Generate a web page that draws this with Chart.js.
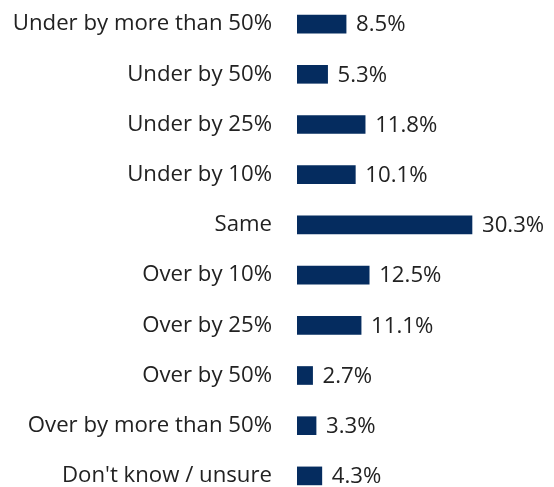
<!DOCTYPE html>
<html>
<head>
<meta charset="utf-8">
<script src="https://cdn.jsdelivr.net/npm/chart.js@4"></script>
<style>
  html, body { margin: 0; padding: 0; background: #fff; overflow: hidden; }
  #chart { position: absolute; left: 0; top: -1px; }
</style>
</head>
<body>
<canvas id="chart" width="554" height="502"></canvas>
<script>
const categories = [
  "Under by more than 50%",
  "Under by 50%",
  "Under by 25%",
  "Under by 10%",
  "Same",
  "Over by 10%",
  "Over by 25%",
  "Over by 50%",
  "Over by more than 50%",
  "Don't know / unsure"
];
const shares = [8.5, 5.3, 11.8, 10.1, 30.3, 12.5, 11.1, 2.7, 3.3, 4.3];

const textColor = "#222222";
const barColor = "#052c5f";
const fontFamily = "'Open Sans', sans-serif";
const fontSize = 22.2;

// Writes each bar's percentage just past its end
const valueLabels = {
  id: "valueLabels",
  afterDatasetsDraw(chart) {
    const ctx = chart.ctx;
    const meta = chart.getDatasetMeta(0);
    ctx.save();
    ctx.font = fontSize + "px " + fontFamily;
    ctx.fillStyle = textColor;
    ctx.textAlign = "left";
    ctx.textBaseline = "middle";
    meta.data.forEach((bar, i) => {
      ctx.fillText(shares[i].toFixed(1) + "%", bar.x + 10, bar.y + 1);
    });
    ctx.restore();
  }
};

new Chart(document.getElementById("chart"), {
  type: "bar",
  data: {
    labels: categories,
    datasets: [{
      data: shares,
      backgroundColor: barColor,
      borderWidth: 0,
      barThickness: 18,
      categoryPercentage: 1,
      barPercentage: 1
    }]
  },
  options: {
    indexAxis: "y",
    responsive: false,
    animation: false,
    devicePixelRatio: 1,
    layout: { padding: { left: 0, right: 26, top: 0, bottom: 0 } },
    plugins: {
      legend: { display: false },
      tooltip: { enabled: false }
    },
    scales: {
      x: {
        display: false,
        min: 0,
        max: 40
      },
      y: {
        afterFit(scale) {
          // fixed label column; no extra vertical room around the category bands
          scale.width = 297;
          scale.paddingTop = 0;
          scale.paddingBottom = 0;
        },
        grid: { display: false, drawTicks: false },
        border: { display: false },
        ticks: {
          padding: 25,
          autoSkip: false,
          color: textColor,
          font: { family: fontFamily, size: fontSize }
        }
      }
    }
  },
  plugins: [valueLabels]
});
</script>
</body>
</html>
